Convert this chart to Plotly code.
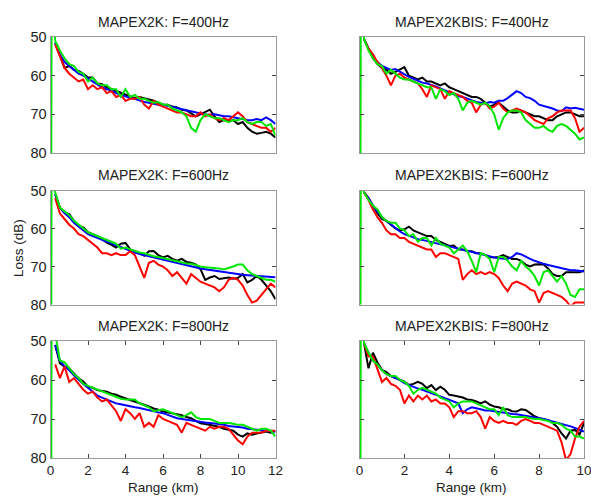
import plotly.graph_objects as go

# ---------------- data ----------------
range_left = [round(0.25 * i, 2) for i in range(1, 49)]    # 0.25 .. 12 km
range_right = [round(0.2 * i, 2) for i in range(1, 51)]    # 0.2 .. 10 km
near_field_range = [0.04, 0.06]
near_field_loss = [95, 35]

titles = ["MAPEX2K: F=400Hz", "MAPEX2KBIS: F=400Hz",
          "MAPEX2K: F=600Hz", "MAPEX2KBIS: F=600Hz",
          "MAPEX2K: F=800Hz", "MAPEX2KBIS: F=800Hz"]
y_ticks = [50, 60, 70, 80]
x_ticks_left = [0, 2, 4, 6, 8, 10, 12]
x_ticks_right = [0, 2, 4, 6, 8, 10]

# MAPEX2K 400 Hz
black_2k_400 = [51.5, 54.5, 58.0, 57.5, 58.5, 58.8, 59.5, 60.5, 60.5, 62.0, 62.2, 63.0,
                63.5, 64.0, 64.5, 64.8, 65.5, 65.8, 65.5, 65.8, 66.2, 66.5, 67.0, 67.5,
                67.5, 68.0, 68.2, 68.8, 69.0, 69.8, 70.5, 70.0, 69.5, 68.8, 70.5, 72.0,
                71.5, 71.8, 71.5, 72.5, 72.0, 73.5, 74.5, 75.0, 74.8, 74.5, 75.0, 76.0]
blue_2k_400 = [51.5, 54.5, 56.5, 57.5, 58.5, 59.5, 60.0, 60.8, 61.5, 62.2, 63.0, 63.5,
               63.8, 64.5, 65.0, 65.5, 65.8, 66.0, 66.5, 66.8, 67.0, 67.2, 67.5, 67.5,
               67.8, 68.2, 68.5, 68.8, 69.0, 69.2, 69.5, 69.8, 70.0, 70.2, 70.0, 70.2,
               70.5, 70.5, 70.8, 71.0, 71.2, 71.5, 71.5, 71.2, 71.5, 70.8, 71.5, 72.5]
red_2k_400 = [52.0, 55.0, 58.0, 59.5, 60.5, 61.5, 61.0, 63.5, 62.5, 63.5, 63.0, 64.5,
              64.0, 65.5, 65.0, 66.5, 66.0, 66.0, 65.5, 67.5, 68.5, 66.5, 67.5, 68.0,
              68.5, 69.0, 69.5, 69.5, 70.0, 70.5, 70.5, 69.5, 70.5, 70.0, 71.0, 71.5,
              71.0, 71.5, 70.5, 69.5, 70.5, 72.0, 72.5, 73.0, 73.5, 73.5, 74.5, 73.5]
green_2k_400 = [51.0, 53.5, 55.5, 57.0, 57.5, 59.0, 59.5, 61.5, 60.5, 62.0, 62.5, 62.5,
                63.5, 63.5, 65.5, 63.5, 65.5, 65.0, 66.0, 66.0, 66.5, 67.0, 66.8, 67.5,
                67.5, 68.5, 69.0, 69.5, 70.5, 73.5, 74.5, 71.5, 70.0, 70.5, 71.0, 71.0,
                71.5, 72.0, 71.5, 71.5, 71.0, 72.0, 72.5, 72.0, 72.0, 73.0, 72.5, 75.5]

# MAPEX2KBIS 400 Hz
black_bis_400 = [50.5, 53.0, 55.5, 57.0, 58.0, 58.5, 59.5, 59.0, 58.5, 57.8,
                 60.0, 60.5, 61.0, 60.5, 61.5, 61.5, 62.0, 62.5, 62.0, 63.0,
                 63.5, 64.0, 64.5, 65.0, 65.5, 65.5, 66.0, 67.0, 68.0, 67.5,
                 67.0, 68.0, 69.0, 69.5, 69.5, 69.0, 69.5, 70.0, 70.5, 70.5,
                 71.0, 71.5, 71.5, 70.5, 70.0, 69.5, 69.5, 70.0, 70.5, 70.5]
blue_bis_400 = [50.5, 53.0, 55.0, 56.5, 57.5, 58.0, 58.5, 58.3, 59.0, 59.8,
                60.3, 60.8, 61.3, 61.8, 62.0, 62.3, 62.8, 63.3, 63.8, 64.5,
                64.8, 65.3, 65.5, 66.0, 66.5, 66.8, 67.0, 67.2, 66.8, 67.0,
                66.5, 66.5, 65.8, 65.0, 64.0, 64.5, 65.5, 65.8, 66.5, 67.5,
                67.8, 68.0, 68.5, 69.0, 69.2, 68.2, 68.5, 68.3, 68.5, 68.8]
red_bis_400 = [50.5, 53.0, 54.5, 56.5, 58.0, 60.0, 62.5, 60.0, 59.5, 60.5,
               61.0, 61.5, 62.0, 63.5, 65.5, 62.5, 63.0, 63.5, 66.0, 64.0,
               64.5, 65.0, 65.5, 66.5, 67.0, 69.5, 67.5, 67.0, 68.5, 68.0,
               67.0, 68.5, 69.5, 69.0, 68.5, 69.0, 69.5, 70.5, 71.5, 72.0,
               72.5, 71.0, 70.5, 69.5, 69.0, 69.0, 69.0, 71.0, 74.5, 73.5]
green_bis_400 = [50.5, 53.5, 55.5, 57.0, 57.5, 59.5, 58.5, 59.5, 60.5, 61.0,
                 61.0, 61.5, 62.0, 62.5, 63.0, 63.0, 66.0, 63.5, 64.0, 65.0,
                 64.5, 66.0, 69.0, 67.0, 66.5, 67.0, 67.5, 67.0, 68.0, 70.0,
                 74.0, 71.0, 69.5, 69.0, 69.0, 69.5, 71.5, 72.5, 73.5, 73.5,
                 73.0, 74.0, 74.5, 73.0, 72.5, 73.0, 74.0, 75.0, 76.5, 76.0]

# MAPEX2K 600 Hz
black_2k_600 = [51.0, 54.5, 55.8, 56.2, 58.0, 59.3, 59.7, 61.0, 61.5, 62.0, 62.8, 63.7,
                64.3, 65.0, 64.0, 63.8, 65.5, 65.9, 66.5, 67.2, 66.0, 65.9, 67.0, 67.6,
                67.2, 68.0, 68.5, 68.0, 68.8, 69.0, 69.5, 70.7, 73.5, 72.9, 72.5, 73.3,
                73.0, 72.9, 73.2, 73.0, 72.0, 74.2, 73.5, 72.5, 73.5, 75.0, 76.5, 78.6]
blue_2k_600 = [51.0, 54.5, 56.0, 57.0, 58.5, 59.5, 60.5, 61.5, 62.0, 62.5, 63.0, 63.5,
               64.0, 64.5, 65.0, 65.5, 66.0, 66.3, 66.7, 67.0, 67.3, 67.6, 68.0, 68.3,
               68.6, 68.9, 69.2, 69.5, 69.7, 70.0, 70.2, 70.5, 70.7, 70.9, 71.1, 71.3,
               71.5, 71.7, 71.9, 72.1, 72.2, 72.3, 72.4, 72.5, 72.6, 72.7, 72.8, 72.8]
red_2k_600 = [52.0, 56.0, 57.5, 59.0, 60.0, 61.5, 62.0, 63.0, 64.0, 65.0, 66.5, 66.5,
              67.0, 66.5, 67.0, 67.0, 66.0, 67.0, 70.0, 73.0, 69.0, 68.5, 69.5, 70.0,
              71.0, 72.5, 71.5, 73.0, 74.5, 72.0, 73.0, 74.0, 74.5, 75.0, 75.5, 76.5,
              75.5, 73.5, 73.0, 73.5, 75.0, 77.5, 79.5, 79.0, 77.5, 76.0, 74.5, 75.5]
green_2k_600 = [50.5, 54.5, 55.5, 56.5, 58.0, 59.0, 60.0, 61.0, 61.5, 62.0, 62.5, 63.2,
                63.5, 64.0, 65.3, 65.0, 65.5, 66.0, 66.3, 66.5, 67.0, 67.3, 67.5, 67.8,
                68.0, 68.3, 68.8, 69.0, 69.2, 69.3, 69.7, 70.0, 70.2, 70.3, 70.5, 70.5,
                70.8, 70.5, 70.0, 69.5, 69.5, 71.0, 72.0, 72.5, 73.0, 73.5, 73.5, 74.0]

# MAPEX2KBIS 600 Hz
black_bis_600 = [50.5, 52.0, 54.0, 56.0, 57.5, 58.0, 59.0, 60.0, 60.5, 60.2,
                 59.5, 60.5, 61.0, 61.5, 62.0, 62.0, 63.0, 63.5, 64.0, 64.6,
                 64.5, 65.5, 65.5, 66.0, 66.0, 66.5, 66.5, 67.0, 67.5, 67.6,
                 67.5, 67.0, 67.5, 68.0, 68.0, 68.5, 69.5, 70.0, 69.5, 69.4,
                 69.5, 70.5, 72.0, 72.5, 72.5, 71.5, 71.5, 71.5, 71.5, 71.0]
blue_bis_600 = [50.5, 52.0, 54.0, 55.5, 57.0, 58.0, 59.0, 60.0, 60.8, 61.5,
                62.0, 62.5, 62.8, 63.0, 63.3, 63.5, 63.8, 64.0, 64.3, 64.6,
                65.0, 65.3, 65.6, 66.0, 66.3, 66.5, 66.8, 67.0, 67.3, 67.6,
                67.8, 68.0, 68.0, 67.5, 66.5, 66.8, 67.5, 68.0, 68.5, 69.0,
                69.3, 69.6, 69.9, 70.2, 70.5, 70.7, 71.0, 71.0, 71.2, 71.3]
red_bis_600 = [50.5, 52.5, 55.0, 57.0, 58.5, 60.5, 61.5, 61.5, 62.5, 62.5,
               63.5, 64.0, 64.5, 65.0, 65.5, 65.5, 67.5, 66.5, 66.5, 67.0,
               67.5, 68.0, 73.5, 72.0, 71.0, 72.0, 71.5, 72.0, 71.5, 72.0,
               73.0, 75.0, 76.5, 74.5, 74.0, 74.5, 75.0, 76.0, 76.5, 79.5,
               77.0, 76.5, 77.0, 77.5, 78.0, 79.0, 80.5, 79.5, 79.5, 79.5]
green_bis_600 = [50.5, 52.5, 54.0, 55.0, 57.0, 58.0, 58.5, 58.5, 60.0, 60.5,
                 62.0, 61.5, 63.5, 62.5, 62.5, 64.5, 62.5, 64.0, 64.5, 65.0,
                 66.5, 65.5, 64.5, 66.0, 68.5, 71.5, 66.5, 67.0, 68.0, 71.5,
                 67.5, 67.5, 68.5, 70.0, 71.0, 68.5, 70.0, 71.0, 72.5, 75.0,
                 71.5, 71.0, 72.5, 74.0, 72.5, 74.5, 77.5, 78.0, 76.0, 76.0]

# MAPEX2K 800 Hz
black_2k_800 = [51.0, 55.7, 56.6, 57.0, 58.3, 59.6, 60.4, 61.7, 62.0, 62.6, 62.8, 63.0,
                63.5, 63.8, 64.3, 64.7, 65.0, 65.6, 66.0, 66.4, 66.8, 67.3, 67.6, 68.1,
                68.3, 68.5, 68.8, 69.0, 69.5, 69.8, 70.5, 71.1, 71.3, 71.5, 71.8, 72.0,
                72.5, 72.8, 73.0, 74.0, 74.5, 73.7, 74.0, 73.7, 73.5, 73.2, 73.5, 73.0]
blue_2k_800 = [51.0, 55.0, 56.5, 57.5, 58.8, 60.0, 61.0, 62.0, 63.0, 64.0, 64.5, 65.0,
               65.5, 66.0, 66.2, 66.5, 66.8, 67.0, 67.2, 67.5, 67.8, 68.0, 68.3, 68.5,
               69.0, 69.5, 69.8, 70.0, 70.2, 70.3, 70.5, 70.8, 70.9, 71.0, 71.1, 71.3,
               71.5, 71.8, 71.9, 72.0, 72.2, 72.5, 72.6, 72.8, 72.9, 73.0, 73.1, 73.3]
red_2k_800 = [56.0, 59.5, 56.5, 60.5, 59.5, 61.0, 62.5, 63.5, 63.0, 64.5, 65.5, 65.0,
              66.5, 68.0, 70.5, 67.5, 68.5, 70.0, 68.5, 72.0, 71.0, 72.0, 69.0, 70.0,
              70.5, 71.0, 71.5, 73.5, 71.0, 71.5, 72.0, 72.5, 73.0, 72.0, 72.5, 72.0,
              72.0, 72.5, 74.0, 75.5, 76.5, 74.5, 73.5, 73.5, 73.5, 73.0, 73.0, 73.0]
green_2k_800 = [48.0, 55.0, 55.5, 57.0, 58.5, 59.5, 61.0, 61.5, 62.0, 62.5, 63.0, 63.5,
                64.0, 64.5, 64.8, 65.0, 65.0, 65.0, 66.0, 66.5, 67.0, 68.0, 67.8, 67.5,
                68.0, 68.5, 69.0, 69.5, 69.0, 68.3, 69.5, 70.0, 70.0, 70.0, 70.5, 71.0,
                71.0, 71.0, 71.2, 71.5, 71.5, 72.0, 72.5, 73.0, 72.5, 72.5, 73.0, 74.5]

# MAPEX2KBIS 800 Hz
black_bis_800 = [50.5, 57.0, 53.0, 55.5, 57.4, 58.0, 59.0, 59.5, 60.0, 60.4,
                 61.3, 61.0, 60.5, 61.0, 62.1, 61.3, 62.6, 61.7, 62.5, 63.8,
                 64.0, 64.3, 64.5, 65.0, 65.1, 65.5, 66.0, 65.5, 66.3, 66.8,
                 67.0, 67.5, 67.5, 68.0, 68.1, 67.5, 67.7, 68.5, 69.3, 69.8,
                 70.0, 70.3, 71.0, 72.0, 73.7, 75.0, 73.0, 72.8, 74.0, 71.0]
blue_bis_800 = [50.5, 53.0, 55.0, 56.0, 57.5, 58.5, 59.0, 59.5, 60.0, 60.8,
                61.3, 61.8, 62.2, 62.5, 63.0, 63.3, 63.8, 64.2, 64.6, 65.0,
                65.5, 66.0, 68.5, 67.5, 67.0, 67.2, 67.5, 67.8, 67.8, 68.0,
                68.2, 68.3, 68.5, 68.7, 68.8, 69.0, 69.2, 69.3, 69.5, 69.8,
                70.0, 70.3, 70.6, 70.9, 71.2, 71.5, 71.9, 72.3, 72.8, 73.2]
red_bis_800 = [50.5, 54.0, 54.0, 57.0, 60.5, 59.5, 61.0, 61.5, 62.5, 66.0,
               64.0, 65.5, 64.0, 65.0, 64.0, 65.5, 65.0, 66.0, 66.0, 67.0,
               69.5, 68.0, 68.0, 68.5, 68.5, 68.0, 69.5, 72.5, 69.5, 70.5,
               71.0, 70.5, 71.0, 71.0, 71.5, 70.5, 70.0, 70.5, 71.0, 71.0,
               71.5, 72.0, 72.5, 73.0, 76.0, 80.5, 79.0, 75.0, 72.0, 70.5]
green_bis_800 = [50.5, 53.0, 55.0, 56.0, 57.5, 58.5, 59.0, 59.0, 60.0, 60.5,
                 61.5, 63.5, 62.5, 62.0, 62.5, 63.0, 63.5, 64.5, 65.0, 65.5,
                 67.0, 66.0, 65.5, 65.5, 65.5, 66.0, 66.5, 67.0, 67.5, 67.5,
                 69.0, 67.0, 69.0, 69.5, 69.5, 69.5, 69.5, 69.8, 70.0, 70.0,
                 70.3, 70.5, 71.0, 71.0, 71.5, 72.5, 73.0, 74.5, 74.5, 75.0]

panels = [
    (range_left, black_2k_400, blue_2k_400, red_2k_400, green_2k_400),
    (range_right, black_bis_400, blue_bis_400, red_bis_400, green_bis_400),
    (range_left, black_2k_600, blue_2k_600, red_2k_600, green_2k_600),
    (range_right, black_bis_600, blue_bis_600, red_bis_600, green_bis_600),
    (range_left, black_2k_800, blue_2k_800, red_2k_800, green_2k_800),
    (range_right, black_bis_800, blue_bis_800, red_bis_800, green_bis_800),
]

# ---------------- layout ----------------
W, H = 591, 496
col_px = [(50.5, 275.5), (359.5, 584.0)]
row_px = [(37, 153), (190.5, 304.5), (341, 458)]
title_px = [21.7, 175.5, 325.5]
colors = ["#000000", "#0000ff", "#ff0000", "#00e600"]
font_family = "Liberation Sans, Arial, Helvetica, sans-serif"
text_color = "#222222"

fig = go.Figure()
layout = dict(
    template="none",
    width=W, height=H, autosize=False,
    margin=dict(l=0, r=0, t=0, b=0, pad=0, autoexpand=False),
    paper_bgcolor="white", plot_bgcolor="white",
    showlegend=False,
    font=dict(family=font_family, size=13, color=text_color),
)
annotations = []

for i, (xs, blk, blu, red, grn) in enumerate(panels):
    r, c = divmod(i, 2)
    ax = "" if i == 0 else str(i + 1)
    xd = [col_px[c][0] / W, col_px[c][1] / W]
    yd = [1 - row_px[r][1] / H, 1 - row_px[r][0] / H]
    bottom = (r == 2)
    xmax = 12 if c == 0 else 10
    layout["xaxis" + ax] = dict(
        domain=xd, anchor="y" + ax, range=[0, xmax], automargin=False,
        tickvals=(x_ticks_left if c == 0 else x_ticks_right) if bottom else [],
        showticklabels=bottom, ticks="inside" if bottom else "", ticklen=4,
        tickcolor="#444", showline=True, linecolor="#9a9a9a", linewidth=1,
        mirror="ticks" if bottom else True, showgrid=False, zeroline=False,
        tickfont=dict(size=13.5, color=text_color), ticklabeloverflow="allow",
    )
    layout["yaxis" + ax] = dict(
        domain=yd, anchor="x" + ax, range=[80, 50], tickvals=y_ticks, automargin=False,
        showticklabels=(c == 0), ticks="inside", ticklen=4, tickcolor="#444",
        showline=True, linecolor="#9a9a9a", linewidth=1, mirror="ticks",
        showgrid=False, zeroline=False, tickfont=dict(size=14.5, color=text_color),
    )
    series = [blk, blu, red, grn]
    for k, ys in enumerate(series):
        if k == 3:
            xx = near_field_range + xs
            yy = near_field_loss + ys
        else:
            xx, yy = xs, ys
        fig.add_trace(go.Scatter(
            x=xx, y=yy, mode="lines", xaxis="x" + ax, yaxis="y" + ax,
            line=dict(color=colors[k], width=2.0), hoverinfo="skip",
        ))
    annotations.append(dict(
        text=titles[i], x=(xd[0] + xd[1]) / 2, y=1 - title_px[r] / H,
        xref="paper", yref="paper", showarrow=False, xanchor="center",
        yanchor="middle", font=dict(size=14, color=text_color),
    ))
    if bottom:
        annotations.append(dict(
            text="Range (km)", x=(xd[0] + xd[1]) / 2, y=1 - 487 / H,
            xref="paper", yref="paper", showarrow=False, xanchor="center",
            yanchor="middle", font=dict(size=13.5, color=text_color),
        ))

annotations.append(dict(
    text="Loss (dB)", x=18 / W, y=1 - 248 / H, xref="paper", yref="paper",
    showarrow=False, textangle=-90, xanchor="center", yanchor="middle",
    font=dict(size=13.5, color=text_color),
))
layout["annotations"] = annotations
fig.update_layout(**layout)
fig.write_html(
    "out.html",
    config={"displayModeBar": False, "responsive": False},
    post_script="document.body.style.margin='0px';document.body.style.overflow='hidden';",
)
